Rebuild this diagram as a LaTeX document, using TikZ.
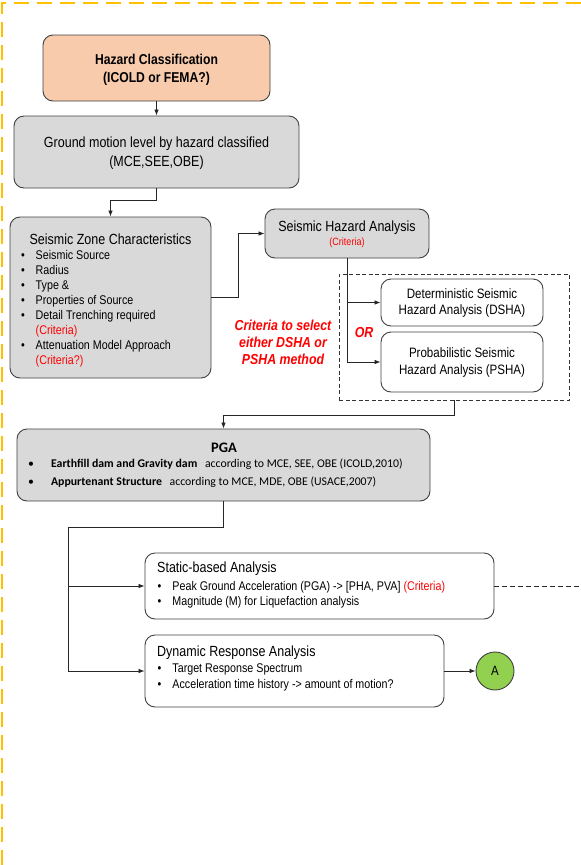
\documentclass[tikz,border=0pt]{standalone}
\usepackage{fontspec}
\setmainfont{Liberation Sans}[FakeStretch=0.85]
\newfontfamily\calibri{Carlito}
\usetikzlibrary{arrows.meta}

\definecolor{hazardpeach}{HTML}{F8CBAD}
\definecolor{boxgray}{HTML}{D9D9D9}
\definecolor{frameyellow}{HTML}{FFC000}
\definecolor{okgreen}{HTML}{92D050}
\definecolor{linegray}{HTML}{404040}

\tikzset{
  box/.style={draw=linegray, line width=0.9pt, rounded corners=10pt, inner sep=3pt},
  graybox/.style={box, fill=boxgray},
  whitebox/.style={box, fill=white},
  arr/.style={-{Latex[length=6pt,width=4.5pt]}, line width=0.7pt, draw=black!85},
  conn/.style={line width=0.7pt, draw=black!85},
  redtxt/.style={text=red, inner sep=0pt, align=center, font=\bfseries\itshape\fontsize{14.5}{17}\selectfont},
  titletxt/.style={inner sep=0pt, anchor=base west, font=\fontsize{14.7}{15}\selectfont},
  listtxt/.style={inner sep=0pt, anchor=base west, font=\fontsize{12.6}{15}\selectfont},
}
\newcommand{\bul}{\textbullet}

\begin{document}
\begin{tikzpicture}[x=1pt,y=-1pt]
    \useasboundingbox (0,0) rectangle (581,865);
    % yellow frame
    \draw[frameyellow, line width=2pt, dash pattern=on 15pt off 8pt] (2,865) -- (2,3) -- (581,3);

    % hazard level
    \node[box, fill=hazardpeach, minimum width=227pt, minimum height=66pt, align=center, text depth=-3pt,
          font=\bfseries\fontsize{14.3}{18}\selectfont] (hazard) at (156.5,68)
          {Hazard Classification\\(ICOLD or FEMA?)};
    \node[graybox, minimum width=285pt, minimum height=72pt, align=center, text depth=-3pt,
          font=\fontsize{14.7}{19}\selectfont] (ground) at (156.5,152)
          {Ground motion level by hazard classified\\(MCE,SEE,OBE)};

    % seismic zone
    \node[graybox, minimum width=201pt, minimum height=161pt] (szc) at (110.5,297.5) {};
    \node[titletxt, anchor=base] (szc title) at (110.5,244) {Seismic Zone Characteristics};
    \node[listtxt] (szc list) at (20.8,259) {\begin{tabular}[t]{@{}l@{\hspace{11pt}}l@{}}
        \bul & Seismic Source\\
        \bul & Radius\\
        \bul & Type \&\\
        \bul & Properties of Source\\
        \bul & Detail Trenching required\\
             & \textcolor{red}{(Criteria)}\\
        \bul & Attenuation Model Approach\\
             & \textcolor{red}{(Criteria?)}
    \end{tabular}};

    % hazard analysis
    \node[graybox, minimum width=164pt, minimum height=49pt, align=center, text depth=-2pt,
          font=\fontsize{14.7}{14}\selectfont] (sha) at (347,233.5)
          {Seismic Hazard Analysis\\{\fontsize{10.6}{14}\selectfont\color{red}(Criteria)}};
    \node[draw=black!80, dash pattern=on 4pt off 2.5pt, line width=0.8pt,
          minimum width=230pt, minimum height=126pt] (choice) at (454,337) {};
    \node[whitebox, minimum width=162pt, minimum height=47pt, align=center,
          font=\fontsize{13.6}{16}\selectfont] (dsha) at (462,302.5)
          {Deterministic Seismic\\Hazard Analysis (DSHA)};
    \node[whitebox, minimum width=162pt, minimum height=60pt, align=center,
          font=\fontsize{13.6}{17}\selectfont] (psha) at (462,362)
          {Probabilistic Seismic\\Hazard Analysis (PSHA)};
    \node[redtxt] (or) at (364,333) {OR};
    \node[redtxt] (criteria) at (283,342) {Criteria to select\\either DSHA or\\PSHA method};

    % PGA
    \node[graybox, minimum width=413pt, minimum height=72pt] (pga) at (223.5,465) {};
    \node[inner sep=0pt, anchor=base, font=\calibri\bfseries\fontsize{14.5}{16}\selectfont] (pga title) at (224,452) {PGA};
    \node[listtxt, font=\calibri\fontsize{11.8}{18}\selectfont] (pga list) at (28,467) {\begin{tabular}[t]{@{}l@{\hspace{17pt}}l@{}}
        \bul & \textbf{Earthfill dam and Gravity dam}\hspace{5pt} according to MCE, SEE, OBE (ICOLD,2010)\\
        \bul & \textbf{Appurtenant Structure}\hspace{5pt} according to MCE, MDE, OBE (USACE,2007)
    \end{tabular}};

    % analyses
    \node[whitebox, minimum width=349pt, minimum height=66pt] (static) at (319.5,586) {};
    \node[titletxt] (static title) at (157,572.7) {Static-based Analysis};
    \node[listtxt] (static list) at (157.5,590) {\begin{tabular}[t]{@{}l@{\hspace{11pt}}l@{}}
        \bul & Peak Ground Acceleration (PGA) -> [PHA, PVA] \textcolor{red}{(Criteria)}\\
        \bul & Magnitude (M) for Liquefaction analysis
    \end{tabular}};
    \node[whitebox, minimum width=299pt, minimum height=72pt] (dynamic) at (294.5,671) {};
    \node[titletxt] (dynamic title) at (157,656.5) {Dynamic Response Analysis};
    \node[listtxt, font=\fontsize{12.6}{16}\selectfont] (dynamic list) at (157.5,672.5) {\begin{tabular}[t]{@{}l@{\hspace{11pt}}l@{}}
        \bul & Target Response Spectrum\\
        \bul & Acceleration time history -> amount of motion?
    \end{tabular}};
    \node[circle, draw=linegray, line width=0.9pt, fill=okgreen, minimum size=38pt, inner sep=0pt,
          font=\fontsize{13.5}{14}\selectfont] (A) at (495,671) {A};

    % connectors
    \draw[arr] (hazard.south) -- (ground.north);
    \draw[arr] (ground.south) -- ++(0,12) -| (szc.north);
    \draw[arr] (szc.east) -- ++(27,0) |- (sha.west);
    \draw[arr] (sha.south) |- (dsha.west);
    \draw[arr] (sha.south) |- (psha.west);
    \draw[arr] (choice.south) -- ++(0,15) -| (pga.north);
    \coordinate (split) at (68,527);
    \draw[conn] (pga.south) |- (split);
    \draw[arr] (split) |- (static.west);
    \draw[arr] (split) |- (dynamic.west);
    \coordinate (offpage) at (581,586);
    \draw[conn, dash pattern=on 5pt off 3pt] (static.east) -- (offpage);
    \draw[arr] (dynamic.east) -- (A.west);
\end{tikzpicture}
\end{document}
